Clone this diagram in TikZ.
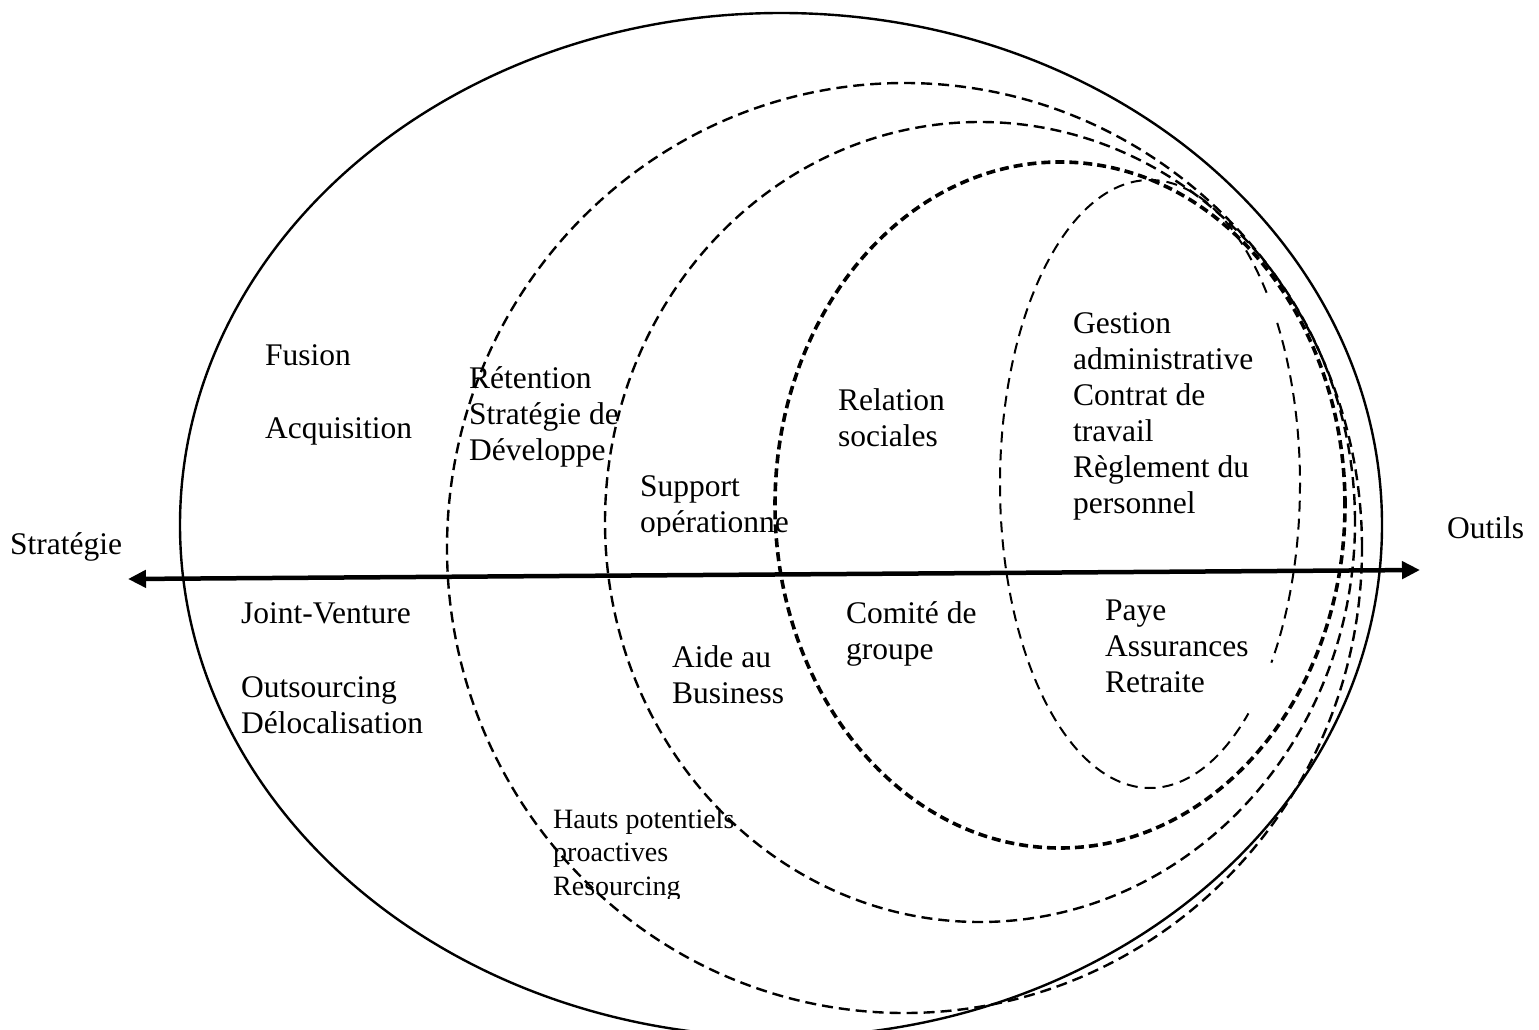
\documentclass[tikz,border=0pt]{standalone}
\usepackage{fontspec}
\setmainfont{Liberation Serif}
\usetikzlibrary{arrows.meta}

\begin{document}
\begin{tikzpicture}[x=1pt, y=-1pt,
    % Stili per le linee
    outer_line/.style = {line width=2.4pt},
    dash_line/.style = {
        line width=2.4pt,
        dash pattern=on 11pt off 6pt
    },
    thick_dash/.style = {
        line width=3.6pt,
        dash pattern=on 9pt off 5pt
    },
    thin_dash/.style = {
        line width=2pt,
        dash pattern=on 11pt off 7pt
    },
    axis_line/.style = {
        line width=4.5pt,
        {Triangle[length=18pt, width=17pt]}-{Triangle[length=18pt, width=17pt]}
    },
    % Stili per i testi (ancora sulla linea di base dell'ultima riga)
    label_text/.style = {
        anchor=base west,
        inner sep=0pt,
        align=left,
        font=\fontsize{31.5}{36}\selectfont
    },
    small_text/.style = {
        label_text,
        font=\fontsize{28}{33.5}\selectfont
    }
]

\useasboundingbox (0,0) rectangle (1539,1030);

% 1. Ellisse esterna
\draw[outer_line] (781,525) ellipse [x radius=601pt, y radius=512pt];

% 2. Ellissi tratteggiate
\draw[dash_line] (904.5,548) ellipse [x radius=457.5pt, y radius=465pt];
\draw[dash_line] (980,522) ellipse [x radius=375pt, y radius=400pt];
\draw[thick_dash] (1060,505) ellipse [x radius=285pt, y radius=343pt];

% Ellisse interna, in due pezzi
\coordinate (inner_c) at (1150,484);
\draw[thin_dash] (inner_c) ++(39:150pt and 304pt)
    arc[start angle=39, end angle=311, x radius=150pt, y radius=304pt];
\draw[thin_dash] (inner_c) ++(32:150pt and 304pt)
    arc[start angle=32, end angle=-36, x radius=150pt, y radius=304pt];

% 3. Asse
\coordinate (ax_left) at (128,579);
\coordinate (ax_right) at (1420,570);
\draw[axis_line] (ax_left) -- (ax_right);

\node[label_text] (strategie) at (10,554) {Stratégie};
\node[label_text] (outils) at (1447,538) {Outils};

% 4. Etichette sopra l'asse
\node[label_text] (fusion) at (265,365) {Fusion};
\node[label_text] (acquisition) at (265,438) {Acquisition};
\node[label_text] (retention) at (469,460) {Rétention\\Stratégie de\\Développe};
\begin{scope}
    \clip (600,450) rectangle (820,535);
    \node[label_text] (support) at (640,532) {Support\\opérationne};
\end{scope}
\node[label_text] (relation) at (838,446) {Relation\\sociales};
\node[label_text] (gestion) at (1073,513) {Gestion\\administrative\\Contrat de\\travail\\Règlement du\\personnel};

% 5. Etichette sotto l'asse
\node[label_text] (joint) at (241,623) {Joint-Venture};
\node[label_text] (outsourcing) at (241,733) {Outsourcing\\Délocalisation};
\node[label_text] (aide) at (672,703) {Aide au\\Business};
\node[label_text] (comite) at (846,659) {Comité de\\groupe};
\node[label_text] (paye) at (1105,692) {Paye\\Assurances\\Retraite};
\begin{scope}
    \clip (540,790) rectangle (800,898);
    \node[small_text] (hauts) at (553,895) {Hauts potentiels\\proactives\\Resourcing};
\end{scope}

\end{tikzpicture}
\end{document}
